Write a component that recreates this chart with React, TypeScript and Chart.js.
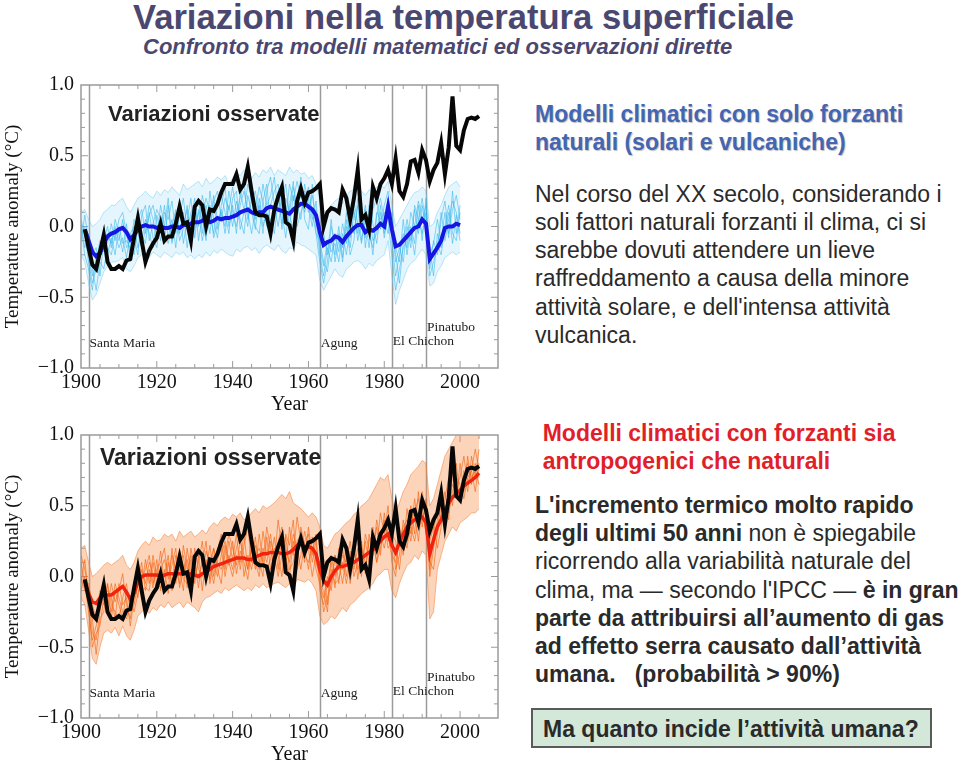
import React, { useEffect, useRef } from 'react';
import { Chart, registerables } from 'chart.js';

Chart.register(...registerables);

// ---------- axis / annotation data ----------
const xTicks = [1900, 1920, 1940, 1960, 1980, 2000];
const yTicks = [-1, -0.5, 0, 0.5, 1];
const volcanoYears = [1902, 1963, 1982, 1991];
const volcanoNames = ['Santa Maria', 'Agung', 'El Chichon', 'Pinatubo'];
const volcanoLabelY = [-0.855, -0.855, -0.84, -0.74];

// ---------- observed (black), 1901-2005 ----------
const OBS_START = 1901;
const observed = [
  -0.02, -0.15, -0.27, -0.30, -0.18, -0.06, -0.25, -0.30, -0.30, -0.28,
  -0.30, -0.24, -0.23, -0.08, 0.06, -0.10, -0.25, -0.17, -0.12, -0.08,
  0.02, -0.10, -0.07, -0.07, 0.02, 0.14, 0.02, 0.03, -0.10, 0.14,
  0.18, 0.15, 0.00, 0.12, 0.11, 0.16, 0.24, 0.30, 0.30, 0.30,
  0.37, 0.26, 0.30, 0.42, 0.25, 0.10, 0.08, 0.08, 0.07, -0.05,
  0.12, 0.21, 0.28, 0.03, 0.01, -0.10, 0.18, 0.27, 0.17, 0.24,
  0.25, 0.27, 0.30, 0.00, 0.10, 0.13, 0.12, 0.10, 0.26, 0.20,
  0.05, 0.20, 0.40, 0.05, 0.08, -0.02, 0.28, 0.20, 0.30, 0.34,
  0.40, 0.30, 0.48, 0.25, 0.21, 0.30, 0.46, 0.47, 0.38, 0.54,
  0.47, 0.32, 0.40, 0.45, 0.59, 0.37, 0.56, 0.92, 0.57, 0.54,
  0.68, 0.76, 0.77, 0.76, 0.78,
];

// ---------- natural-only model mean (blue), 1901-2000 ----------
const NAT_MEAN_START = 1901;
const naturalMean = [
  -0.02, -0.10, -0.18, -0.21, -0.19, -0.12, -0.07, -0.05, -0.04, -0.02,
  -0.01, -0.04, -0.09, -0.06, -0.02, 0.00, 0.01, 0.00, 0.00, -0.01,
  0.00, -0.01, -0.01, 0.00, 0.00, -0.01, 0.01, 0.01, 0.02, 0.03,
  0.03, 0.04, 0.06, 0.03, 0.04, 0.06, 0.05, 0.06, 0.06, 0.07,
  0.08, 0.10, 0.11, 0.12, 0.10, 0.09, 0.10, 0.10, 0.13, 0.14,
  0.13, 0.12, 0.11, 0.10, 0.09, 0.12, 0.14, 0.16, 0.16, 0.14,
  0.12, 0.08, -0.04, -0.13, -0.11, -0.10, -0.07, -0.08, -0.11, -0.07,
  -0.04, -0.01, 0.01, 0.01, -0.04, -0.02, -0.03, -0.01, 0.02, 0.00,
  0.14, -0.02, -0.14, -0.13, -0.10, -0.07, -0.04, -0.01, 0.00, 0.05,
  0.02, -0.23, -0.19, -0.15, -0.10, -0.01, 0.00, 0.00, 0.02, 0.01,
];

// ---------- natural-only ensemble (light blue), 1900-2000 ----------
const NAT_ENS_START = 1900;
const naturalUpper = [
  0.10, 0.12, 0.05, 0.00, 0.02, 0.05, 0.10, 0.12, 0.15, 0.15,
  0.18, 0.20, 0.14, 0.10, 0.15, 0.20, 0.22, 0.25, 0.22, 0.20,
  0.25, 0.22, 0.26, 0.24, 0.28, 0.25, 0.22, 0.30, 0.26, 0.28,
  0.30, 0.32, 0.28, 0.34, 0.30, 0.32, 0.35, 0.33, 0.36, 0.30,
  0.34, 0.38, 0.36, 0.40, 0.37, 0.34, 0.38, 0.35, 0.40, 0.38,
  0.42, 0.36, 0.40, 0.38, 0.36, 0.42, 0.38, 0.40, 0.37, 0.38,
  0.34, 0.36, 0.30, 0.20, 0.05, 0.12, 0.15, 0.18, 0.20, 0.16,
  0.22, 0.25, 0.26, 0.28, 0.25, 0.22, 0.26, 0.24, 0.28, 0.30,
  0.27, 0.32, 0.15, 0.00, 0.05, 0.10, 0.15, 0.20, 0.24, 0.25,
  0.28, 0.25, 0.00, 0.02, 0.10, 0.15, 0.22, 0.28, 0.30, 0.32, 0.28,
];
const naturalLower = [
  -0.20, -0.25, -0.40, -0.52, -0.48, -0.40, -0.32, -0.28, -0.25, -0.25,
  -0.24, -0.22, -0.30, -0.32, -0.28, -0.22, -0.20, -0.20, -0.22, -0.18,
  -0.20, -0.22, -0.18, -0.20, -0.22, -0.18, -0.20, -0.18, -0.22, -0.20,
  -0.23, -0.20, -0.22, -0.18, -0.21, -0.17, -0.19, -0.16, -0.18, -0.20,
  -0.21, -0.16, -0.18, -0.15, -0.14, -0.17, -0.15, -0.19, -0.15, -0.13,
  -0.15, -0.17, -0.13, -0.17, -0.19, -0.15, -0.16, -0.11, -0.13, -0.14,
  -0.16, -0.18, -0.20, -0.38, -0.45, -0.40, -0.35, -0.30, -0.34, -0.36,
  -0.30, -0.28, -0.25, -0.24, -0.26, -0.30, -0.26, -0.28, -0.24, -0.22,
  -0.20, -0.10, -0.35, -0.55, -0.45, -0.38, -0.30, -0.26, -0.24, -0.20,
  -0.16, -0.20, -0.42, -0.40, -0.32, -0.28, -0.22, -0.20, -0.18, -0.20, -0.18,
];
const naturalRunA = [
  0.05, -0.05, -0.25, -0.40, -0.30, -0.20, -0.08, -0.12, 0.02, -0.10,
  0.05, 0.10, -0.05, -0.20, -0.12, 0.05, 0.12, -0.05, 0.08, 0.15,
  0.02, -0.10, 0.10, 0.05, 0.18, -0.05, 0.08, 0.20, -0.02, 0.10,
  0.15, 0.00, 0.22, 0.10, -0.05, 0.18, 0.25, 0.05, 0.20, 0.12,
  0.28, 0.10, 0.20, 0.32, 0.05, 0.18, 0.25, 0.08, 0.30, 0.15,
  0.22, 0.35, 0.10, 0.28, 0.05, 0.30, 0.18, 0.32, 0.20, 0.25,
  0.10, 0.22, 0.05, -0.20, -0.35, -0.15, -0.25, -0.05, -0.18, 0.02,
  -0.12, 0.10, -0.05, 0.15, -0.10, 0.05, -0.15, 0.12, 0.20, -0.02,
  0.15, 0.25, -0.10, -0.35, -0.20, -0.05, -0.15, 0.10, 0.00, 0.18,
  0.05, 0.15, -0.30, -0.10, -0.20, 0.05, 0.18, -0.05, 0.12, 0.22, 0.05,
];
const naturalRunB = [
  -0.10, 0.08, -0.10, -0.30, -0.45, -0.25, -0.30, -0.15, -0.20, -0.05,
  -0.15, -0.08, -0.22, -0.05, 0.00, -0.15, -0.05, -0.12, 0.10, -0.08,
  -0.15, 0.08, -0.05, -0.12, 0.00, 0.12, -0.10, -0.02, 0.15, -0.08,
  -0.02, 0.10, -0.10, 0.05, 0.15, -0.08, 0.02, 0.12, -0.05, 0.15,
  0.00, 0.18, 0.05, -0.05, 0.22, 0.10, -0.02, 0.20, 0.00, 0.10,
  0.05, -0.05, 0.20, 0.02, 0.15, 0.00, 0.22, 0.05, 0.28, 0.10,
  0.20, 0.05, 0.12, -0.10, -0.25, -0.32, -0.10, -0.20, 0.00, -0.22,
  0.05, -0.15, 0.10, -0.05, 0.18, -0.15, 0.08, -0.10, -0.05, 0.15,
  -0.08, 0.10, 0.05, -0.20, -0.40, -0.12, 0.05, -0.10, 0.12, -0.05,
  0.15, -0.05, -0.15, -0.35, -0.05, -0.15, -0.02, 0.10, -0.12, 0.08, -0.10,
];
const naturalRunC = [
  0.02, -0.15, -0.05, -0.20, -0.15, -0.35, -0.10, 0.00, -0.15, 0.05,
  -0.05, -0.18, 0.02, -0.25, -0.08, -0.20, 0.08, 0.15, -0.10, 0.02,
  0.12, 0.05, -0.12, 0.15, -0.10, 0.05, 0.15, -0.12, 0.05, 0.20,
  -0.08, 0.12, 0.05, -0.10, 0.25, 0.05, -0.08, 0.15, 0.28, 0.00,
  0.15, -0.05, 0.25, 0.12, 0.00, 0.30, 0.05, 0.15, -0.05, 0.25,
  0.35, 0.15, 0.00, 0.18, 0.30, 0.08, -0.02, 0.12, 0.35, 0.05,
  -0.02, 0.30, -0.05, -0.10, -0.05, -0.20, 0.05, -0.25, -0.10, -0.15,
  0.10, -0.08, 0.18, 0.02, -0.12, 0.12, 0.00, -0.20, 0.08, 0.20,
  0.05, -0.05, 0.10, -0.15, -0.25, 0.05, -0.20, 0.00, -0.12, 0.15,
  -0.10, 0.20, -0.20, -0.12, 0.05, -0.10, 0.10, -0.08, 0.25, -0.05, 0.15,
];
const naturalRunD = [
  -0.05, 0.00, -0.20, -0.35, -0.25, -0.10, -0.18, -0.05, -0.12, 0.00,
  -0.10, 0.05, -0.15, -0.10, -0.20, 0.00, -0.10, 0.05, -0.05, -0.15,
  0.08, -0.05, 0.15, -0.08, 0.05, -0.15, 0.10, 0.00, 0.12, -0.10,
  0.08, 0.20, -0.05, 0.15, 0.02, 0.22, -0.02, 0.10, 0.00, 0.25,
  0.10, 0.00, 0.15, 0.25, 0.10, -0.05, 0.12, 0.28, 0.18, 0.00,
  0.15, 0.25, 0.30, -0.02, 0.20, 0.10, 0.28, 0.15, 0.05, 0.30,
  0.15, 0.00, 0.18, -0.15, -0.28, -0.10, -0.18, -0.12, -0.25, -0.05,
  -0.20, 0.00, 0.12, -0.10, 0.05, -0.08, 0.15, 0.02, -0.12, 0.10,
  -0.05, 0.20, 0.00, -0.25, -0.15, -0.25, 0.00, -0.15, 0.15, 0.05,
  -0.05, 0.10, -0.25, -0.20, -0.12, -0.20, 0.00, 0.15, -0.05, -0.10, 0.10,
];
const naturalRunE = [
  0.00, -0.20, -0.30, -0.45, -0.20, -0.15, -0.05, -0.20, -0.08, -0.20,
  0.00, -0.12, -0.10, -0.15, 0.05, -0.05, -0.15, -0.02, 0.15, 0.05,
  -0.08, 0.15, 0.00, 0.20, -0.12, 0.10, -0.05, 0.10, -0.15, 0.05,
  0.20, -0.10, 0.08, 0.20, 0.10, -0.05, 0.15, 0.22, 0.10, -0.05,
  0.20, 0.25, -0.02, 0.10, 0.30, 0.20, 0.00, -0.05, 0.18, 0.30,
  0.00, 0.12, 0.25, 0.10, -0.08, 0.15, 0.32, 0.00, 0.10, 0.18,
  0.28, 0.10, -0.05, -0.25, -0.40, -0.25, 0.00, -0.10, -0.05, -0.25,
  0.00, -0.20, -0.10, 0.20, 0.00, 0.15, -0.05, -0.15, 0.10, 0.05,
  0.10, 0.05, -0.20, -0.45, -0.30, -0.15, -0.10, -0.02, -0.20, 0.05,
  0.20, 0.00, -0.35, -0.25, -0.15, 0.10, -0.10, 0.05, 0.18, 0.10, -0.05,
];

// ---------- natural + anthropogenic model mean (red), 1901-2005 ----------
const ALL_MEAN_START = 1901;
const allMean = [
  -0.03, -0.12, -0.18, -0.19, -0.15, -0.13, -0.13, -0.13, -0.11, -0.09,
  -0.07, -0.11, -0.16, -0.12, -0.04, 0.00, 0.01, 0.01, 0.01, 0.01,
  0.00, 0.01, 0.02, 0.02, 0.02, 0.02, 0.02, 0.02, 0.02, 0.01,
  0.00, 0.02, 0.03, 0.05, 0.07, 0.08, 0.09, 0.10, 0.11, 0.12,
  0.13, 0.13, 0.13, 0.12, 0.12, 0.14, 0.15, 0.16, 0.16, 0.17,
  0.17, 0.17, 0.16, 0.16, 0.17, 0.19, 0.22, 0.23, 0.21, 0.21,
  0.20, 0.16, 0.05, -0.03, -0.06, 0.00, 0.04, 0.07, 0.07, 0.08,
  0.09, 0.10, 0.12, 0.13, 0.15, 0.17, 0.19, 0.22, 0.25, 0.28,
  0.30, 0.22, 0.17, 0.24, 0.30, 0.35, 0.38, 0.40, 0.41, 0.42,
  0.38, 0.16, 0.26, 0.35, 0.40, 0.46, 0.52, 0.56, 0.58, 0.61,
  0.64, 0.66, 0.68, 0.70, 0.73,
];

// ---------- natural + anthropogenic ensemble (orange), 1900-2005 ----------
const ALL_ENS_START = 1900;
const allUpper = [
  0.20, 0.22, 0.10, 0.00, 0.02, 0.05, 0.08, 0.10, 0.08, 0.10,
  0.12, 0.15, 0.08, 0.05, 0.10, 0.18, 0.22, 0.25, 0.22, 0.28,
  0.25, 0.26, 0.30, 0.28, 0.30, 0.25, 0.32, 0.28, 0.30, 0.32,
  0.28, 0.30, 0.33, 0.30, 0.35, 0.38, 0.36, 0.40, 0.42, 0.40,
  0.44, 0.42, 0.45, 0.40, 0.42, 0.45, 0.48, 0.45, 0.50, 0.48,
  0.50, 0.52, 0.55, 0.58, 0.55, 0.60, 0.52, 0.50, 0.48, 0.45,
  0.42, 0.45, 0.42, 0.35, 0.22, 0.20, 0.25, 0.30, 0.32, 0.35,
  0.38, 0.40, 0.44, 0.46, 0.50, 0.52, 0.55, 0.60, 0.65, 0.70,
  0.68, 0.72, 0.55, 0.45, 0.52, 0.60, 0.65, 0.72, 0.75, 0.78,
  0.82, 0.80, 0.50, 0.55, 0.65, 0.75, 0.85, 0.90, 0.95, 1.00,
  1.02, 1.05, 1.05, 1.05, 1.05, 1.05,
];
const allLower = [
  -0.15, -0.20, -0.38, -0.58, -0.62, -0.50, -0.40, -0.38, -0.40, -0.36,
  -0.42, -0.35, -0.42, -0.45, -0.38, -0.28, -0.25, -0.22, -0.26, -0.22,
  -0.24, -0.20, -0.22, -0.18, -0.22, -0.20, -0.18, -0.22, -0.18, -0.20,
  -0.22, -0.25, -0.18, -0.15, -0.14, -0.12, -0.10, -0.12, -0.08, -0.10,
  -0.08, -0.06, -0.08, -0.10, -0.08, -0.10, -0.06, -0.08, -0.05, -0.08,
  -0.06, -0.05, -0.04, -0.06, -0.08, -0.05, -0.08, -0.02, -0.03, -0.04,
  -0.02, -0.05, -0.10, -0.28, -0.34, -0.32, -0.28, -0.30, -0.26, -0.22,
  -0.25, -0.20, -0.18, -0.15, -0.12, -0.10, -0.08, -0.05, 0.00, 0.02,
  0.05, 0.05, -0.10, -0.15, -0.05, 0.02, 0.08, 0.10, 0.15, 0.12,
  0.18, 0.15, -0.30, -0.25, 0.05, 0.15, 0.25, 0.30, 0.35, 0.32,
  0.38, 0.40, 0.42, 0.45, 0.45, 0.48,
];
const allRunA = [
  0.10, -0.05, -0.25, -0.45, -0.35, -0.20, -0.10, -0.22, -0.05, -0.18,
  -0.10, 0.02, -0.20, -0.30, -0.10, 0.05, -0.08, 0.12, -0.05, 0.15,
  0.00, 0.18, -0.08, 0.10, -0.05, 0.15, 0.05, -0.10, 0.20, 0.02,
  0.10, -0.08, 0.15, 0.05, 0.22, 0.00, 0.18, 0.30, 0.05, 0.25,
  0.12, 0.30, 0.05, 0.22, 0.35, 0.10, 0.28, 0.05, 0.32, 0.15,
  0.30, 0.10, 0.40, 0.20, 0.05, 0.35, 0.15, 0.42, 0.25, 0.10,
  0.35, 0.15, 0.30, -0.10, -0.20, -0.05, 0.10, -0.08, 0.20, 0.05,
  0.22, -0.05, 0.15, 0.30, 0.05, 0.25, 0.10, 0.35, 0.20, 0.45,
  0.30, 0.50, 0.10, 0.00, 0.35, 0.20, 0.48, 0.30, 0.55, 0.35,
  0.60, 0.45, 0.00, 0.20, 0.40, 0.55, 0.35, 0.65, 0.50, 0.80,
  0.55, 0.75, 0.60, 0.85, 0.70, 0.90,
];
const allRunB = [
  -0.05, 0.12, -0.15, -0.30, -0.55, -0.30, -0.25, -0.05, -0.20, -0.25,
  -0.30, -0.15, -0.05, -0.25, -0.20, -0.05, 0.10, -0.10, 0.05, -0.08,
  0.12, -0.10, 0.05, -0.12, 0.20, -0.05, 0.10, 0.15, -0.08, 0.12,
  -0.05, 0.15, -0.10, 0.12, -0.02, 0.20, 0.05, -0.05, 0.22, 0.08,
  0.25, 0.02, 0.18, 0.10, -0.02, 0.20, 0.05, 0.30, 0.10, 0.05,
  0.12, 0.28, 0.05, 0.30, 0.15, 0.00, 0.25, 0.10, 0.35, 0.20,
  0.05, 0.28, 0.10, 0.00, -0.25, -0.15, -0.05, 0.15, -0.05, 0.20,
  0.00, 0.18, 0.00, 0.10, 0.25, 0.02, 0.30, 0.15, 0.35, 0.15,
  0.45, 0.25, 0.35, 0.05, 0.15, 0.40, 0.25, 0.50, 0.30, 0.60,
  0.35, 0.55, 0.10, 0.05, 0.30, 0.45, 0.60, 0.40, 0.75, 0.55,
  0.80, 0.60, 0.85, 0.65, 0.80, 0.70,
];
const allRunC = [
  0.00, -0.10, -0.05, -0.20, -0.30, -0.10, -0.20, -0.05, -0.30, -0.10,
  -0.20, -0.30, -0.10, -0.15, -0.25, -0.12, -0.02, 0.05, 0.15, -0.05,
  0.05, 0.10, 0.20, -0.02, 0.08, 0.20, -0.08, 0.05, 0.12, -0.05,
  0.20, 0.05, 0.00, 0.18, 0.10, -0.05, 0.12, 0.20, 0.00, 0.15,
  0.05, 0.20, 0.30, 0.00, 0.15, 0.05, 0.22, 0.12, 0.00, 0.28,
  0.05, 0.20, 0.15, 0.00, 0.30, 0.22, 0.40, 0.05, 0.15, 0.32,
  0.20, 0.00, 0.15, 0.10, 0.05, -0.20, 0.15, 0.00, 0.10, -0.05,
  0.15, 0.05, 0.25, -0.02, 0.20, 0.10, 0.05, 0.25, 0.10, 0.30,
  0.20, 0.35, 0.30, 0.25, 0.05, 0.30, 0.20, 0.40, 0.45, 0.25,
  0.50, 0.30, 0.25, 0.35, 0.20, 0.35, 0.50, 0.45, 0.60, 0.70,
  0.65, 0.55, 0.70, 0.75, 0.60, 0.80,
];
const allRunD = [
  0.15, 0.05, -0.10, -0.40, -0.45, -0.25, -0.05, -0.15, -0.25, -0.05,
  -0.15, -0.25, -0.30, -0.20, -0.05, -0.15, 0.05, -0.05, 0.10, 0.02,
  -0.10, 0.05, 0.12, 0.00, 0.15, 0.05, -0.05, 0.22, 0.05, 0.15,
  0.00, 0.10, 0.25, -0.02, 0.10, 0.20, 0.10, 0.05, 0.15, 0.30,
  0.20, 0.08, 0.25, 0.15, 0.05, 0.30, 0.15, 0.20, 0.10, 0.35,
  0.20, 0.05, 0.25, 0.35, 0.20, 0.10, 0.30, 0.20, 0.05, 0.25,
  0.30, 0.10, 0.25, -0.05, -0.15, 0.00, -0.10, 0.15, 0.05, 0.15,
  0.10, 0.25, 0.05, 0.20, 0.00, 0.30, 0.20, 0.15, 0.40, 0.25,
  0.35, 0.30, 0.15, 0.10, 0.25, 0.35, 0.40, 0.25, 0.45, 0.55,
  0.40, 0.50, 0.05, 0.30, 0.50, 0.40, 0.55, 0.70, 0.55, 0.65,
  0.70, 0.85, 0.65, 0.75, 0.90, 0.75,
];
const allRunE = [
  -0.10, 0.00, -0.20, -0.50, -0.40, -0.35, -0.15, -0.10, -0.15, -0.30,
  -0.05, -0.20, -0.15, -0.35, -0.15, 0.00, -0.10, -0.08, -0.10, 0.10,
  -0.05, -0.08, 0.00, 0.15, -0.10, 0.00, 0.18, -0.02, -0.05, 0.20,
  0.05, 0.00, 0.10, 0.25, -0.05, 0.10, 0.00, 0.15, 0.25, 0.10,
  0.00, 0.15, 0.10, 0.30, 0.05, 0.20, 0.10, 0.00, 0.20, 0.10,
  0.25, 0.15, 0.00, 0.15, 0.28, 0.05, 0.10, 0.25, 0.30, 0.15,
  0.10, 0.20, 0.05, -0.05, -0.10, -0.25, 0.05, -0.05, -0.02, 0.10,
  -0.05, 0.10, 0.20, 0.05, 0.15, 0.05, 0.25, 0.30, 0.10, 0.20,
  0.40, 0.20, 0.25, 0.15, 0.30, 0.15, 0.35, 0.35, 0.25, 0.40,
  0.45, 0.35, 0.15, 0.25, 0.35, 0.50, 0.45, 0.55, 0.65, 0.60,
  0.60, 0.70, 0.80, 0.70, 0.75, 0.65,
];

// ---------- helpers ----------
const SERIF = '"Liberation Serif", "Times New Roman", serif';
const SANS = '"Liberation Sans", Arial, Helvetica, sans-serif';

const toPoints = (start: number, values: number[]) =>
  values.map((v, i) => ({ x: start + i, y: v }));

const framePlugin = {
  id: 'ipccFrame',
  beforeDatasetsDraw(chart: any) {
    const { ctx, chartArea: a, scales } = chart;
    const x = scales.x;
    const y = scales.y;
    ctx.save();
    ctx.strokeStyle = '#9b9b9b';
    ctx.lineWidth = 1.5;
    volcanoYears.forEach((yr) => {
      const px = Math.round(x.getPixelForValue(yr)) + 0.5;
      ctx.beginPath();
      ctx.moveTo(px, a.top);
      ctx.lineTo(px, a.bottom);
      ctx.stroke();
    });
    ctx.strokeRect(a.left, a.top, a.right - a.left, a.bottom - a.top);
    ctx.lineWidth = 1;
    for (let yr = 1905; yr < 2010; yr += 5) {
      const px = x.getPixelForValue(yr);
      const len = yr % 20 === 0 ? 7 : 4;
      ctx.beginPath();
      ctx.moveTo(px, a.bottom);
      ctx.lineTo(px, a.bottom - len);
      ctx.moveTo(px, a.top);
      ctx.lineTo(px, a.top + len);
      ctx.stroke();
    }
    for (let k = -9; k <= 9; k++) {
      const py = y.getPixelForValue(k / 10);
      const len = k % 5 === 0 ? 7 : 4;
      ctx.beginPath();
      ctx.moveTo(a.left, py);
      ctx.lineTo(a.left + len, py);
      ctx.moveTo(a.right, py);
      ctx.lineTo(a.right - len, py);
      ctx.stroke();
    }
    ctx.fillStyle = '#222';
    ctx.font = '13.5px ' + SERIF;
    ctx.textAlign = 'left';
    ctx.textBaseline = 'alphabetic';
    volcanoNames.forEach((name, i) => {
      ctx.fillText(name, x.getPixelForValue(volcanoYears[i]) + 1, y.getPixelForValue(volcanoLabelY[i]));
    });
    ctx.restore();
  },
};

type Kind = 'natural' | 'all';

function buildConfig(kind: Kind): any {
  const nat = kind === 'natural';
  const thin = nat ? 'rgba(50, 180, 235, 0.55)' : 'rgba(242, 98, 18, 0.62)';
  const edge = nat ? 'rgba(100, 200, 240, 0.45)' : 'rgba(245, 120, 45, 0.5)';
  const band = nat ? 'rgba(130, 210, 245, 0.22)' : 'rgba(248, 135, 60, 0.36)';
  const ensStart = nat ? NAT_ENS_START : ALL_ENS_START;
  const runs = nat
    ? [naturalRunA, naturalRunB, naturalRunC, naturalRunD, naturalRunE]
    : [allRunA, allRunB, allRunC, allRunD, allRunE];
  const upper = nat ? naturalUpper : allUpper;
  const lower = nat ? naturalLower : allLower;
  const common = { pointRadius: 0, tension: 0, fill: false };

  const datasets: any[] = [
    { ...common, label: 'Osservazioni', data: toPoints(OBS_START, observed), borderColor: '#070707', borderWidth: 4, order: 0 },
    nat
      ? { ...common, label: 'Media modelli (naturali)', data: toPoints(NAT_MEAN_START, naturalMean), borderColor: '#1616e2', borderWidth: 4, order: 1 }
      : { ...common, label: 'Media modelli (tutti)', data: toPoints(ALL_MEAN_START, allMean), borderColor: '#f0240e', borderWidth: 3.5, order: 1 },
    ...runs.map((r, i) => ({ ...common, label: 'run' + i, data: toPoints(ensStart, r), borderColor: thin, borderWidth: 1, order: 2 + i })),
    { ...common, label: 'upper', data: toPoints(ensStart, upper), borderColor: edge, borderWidth: 1, fill: '+1', backgroundColor: band, order: 8 },
    { ...common, label: 'lower', data: toPoints(ensStart, lower), borderColor: edge, borderWidth: 1, order: 9 },
  ];

  return {
    type: 'line',
    data: { datasets },
    plugins: [framePlugin],
    options: {
      animation: false,
      responsive: false,
      maintainAspectRatio: false,
      layout: { padding: { top: 25, right: 12, left: 0, bottom: 0 } },
      plugins: { legend: { display: false }, tooltip: { enabled: false } },
      scales: {
        x: {
          type: 'linear',
          min: 1900,
          max: 2010,
          afterBuildTicks: (s: any) => { s.ticks = xTicks.map((v) => ({ value: v })); },
          afterFit: (s: any) => { s.height = 49; },
          grid: { display: false, drawTicks: false },
          border: { display: false },
          ticks: {
            autoSkip: false,
            maxRotation: 0,
            padding: 3,
            color: '#111',
            font: { family: SERIF, size: 20 },
            callback: (v: any) => String(v),
          },
          title: { display: true, text: 'Year', color: '#111', font: { family: SERIF, size: 20 }, padding: { top: 0, bottom: 0 } },
        },
        y: {
          type: 'linear',
          min: -1,
          max: 1,
          afterBuildTicks: (s: any) => { s.ticks = yTicks.map((v) => ({ value: v })); },
          afterFit: (s: any) => { s.width = 81; },
          grid: { display: false, drawTicks: false },
          border: { display: false },
          ticks: {
            padding: 7,
            color: '#111',
            font: { family: SERIF, size: 20 },
            callback: (v: any) => (v < 0 ? '\u2212' + Math.abs(v).toFixed(1) : Number(v).toFixed(1)),
          },
          title: { display: true, text: 'Temperature anomaly (\u00B0C)', color: '#111', font: { family: SERIF, size: 19 }, padding: { top: 2, bottom: 0 } },
        },
      },
    },
  };
}

function Panel({ top, kind }: { top: number; kind: Kind }) {
  const ref = useRef<HTMLCanvasElement>(null);
  useEffect(() => {
    const chart = new Chart(ref.current as HTMLCanvasElement, buildConfig(kind));
    return () => chart.destroy();
  }, [kind]);
  return (
    <canvas
      ref={ref}
      width={510}
      height={357}
      style={{ position: 'absolute', left: 0, top, width: 510, height: 357, display: 'block' }}
    />
  );
}

function Txt(props: {
  x: number; baseline: number; size: number; lh: number; color: string;
  weight?: number | string; italic?: boolean; shadow?: string; children: React.ReactNode;
}) {
  const { x, baseline, size, lh, color, weight, italic, shadow, children } = props;
  const top = baseline - lh / 2 - 0.3465 * size;
  return (
    <div
      style={{
        position: 'absolute', left: x, top, fontFamily: SANS, fontSize: size, lineHeight: lh + 'px',
        color, fontWeight: weight ?? 400, fontStyle: italic ? 'italic' : 'normal', whiteSpace: 'pre',
        textShadow: shadow,
      }}
    >
      {children}
    </div>
  );
}

export default function App() {
  const dark = '#2a2a2a';
  return (
    <div style={{ position: 'absolute', left: 0, top: 0, width: 960, height: 769, background: '#fff', overflow: 'hidden' }}>
      <Panel top={60} kind="natural" />
      <Panel top={410} kind="all" />

      <Txt x={133} baseline={28.5} size={34.6} lh={40} color="#4a4870" weight={700}>
        Variazioni nella temperatura superficiale
      </Txt>
      <Txt x={143} baseline={55} size={22} lh={26} color="#4a4870" weight={700} italic>
        Confronto tra modelli matematici ed osservazioni dirette
      </Txt>

      <Txt x={108} baseline={121.7} size={22} lh={26} color="#222" weight={700}>Variazioni osservate</Txt>
      <Txt x={100} baseline={465} size={23} lh={27} color="#222" weight={700}>Variazioni osservate</Txt>

      <Txt x={535} baseline={121.7} size={23} lh={28.3} color="#4466b2" weight={700} shadow="1px 1px 1px rgba(0,0,0,0.25)">
        {'Modelli climatici con solo forzanti\nnaturali (solari e vulcaniche)'}
      </Txt>
      <Txt x={535} baseline={201.7} size={23} lh={28.3} color={dark}>
        {"Nel corso del XX secolo, considerando i\nsoli fattori naturali forzanti il clima, ci si\nsarebbe dovuti attendere un lieve\nraffreddamento a causa della minore\nattività solare, e dell'intensa attività\nvulcanica."}
      </Txt>

      <Txt x={542.7} baseline={441.7} size={23} lh={27.7} color="#e11f2b" weight={700}>
        {'Modelli climatici con forzanti sia\nantropogenici che naturali'}
      </Txt>
      <Txt x={535} baseline={513.3} size={23} lh={28.1} color={dark}>
        <b>{"L'incremento termico molto rapido"}</b>
        {'\n'}
        <b>degli ultimi 50 anni</b>{' non è spiegabile'}
        {'\nricorrendo alla variabilità naturale del\n'}
        {"clima, ma \u2014 secondo l'IPCC \u2014 "}<b>è in gran</b>
        {'\n'}
        <b>{'parte da attribuirsi all\u2019aumento di gas\nad effetto serra causato dall\u2019attività\numana.   (probabilità > 90%)'}</b>
      </Txt>

      <div
        style={{
          position: 'absolute', left: 531, top: 708, width: 401, height: 40, boxSizing: 'border-box',
          background: '#d3e8d8', border: '2px solid #5a5a5a',
        }}
      />
      <Txt x={543} baseline={736.7} size={23} lh={28} color={dark} weight={700}>
        {'Ma quanto incide l\u2019attività umana?'}
      </Txt>
    </div>
  );
}
